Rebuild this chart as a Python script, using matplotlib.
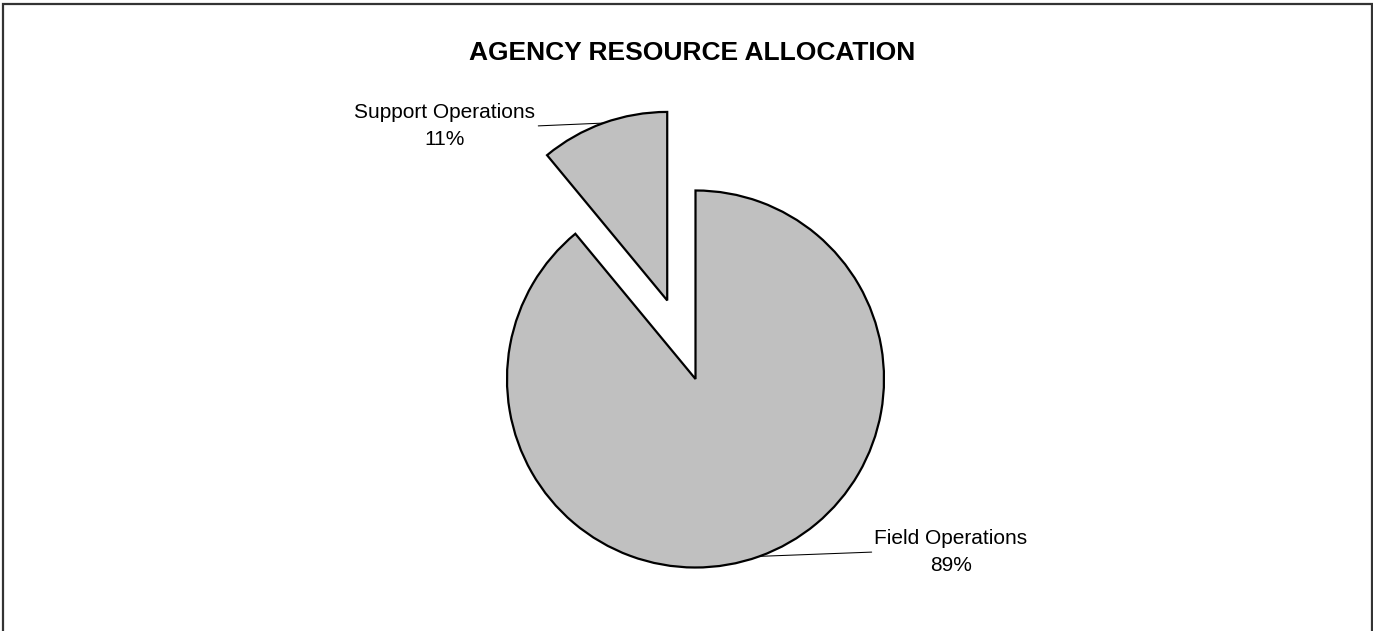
import matplotlib

matplotlib.use("Agg")
import matplotlib.pyplot as plt
import numpy as np
from matplotlib.patches import Rectangle

# Chart data
categories = ["Field Operations", "Support Operations"]
shares = [89, 11]
title = "AGENCY RESOURCE ALLOCATION"

W, H = 1373, 631
CENTER = (695.5, H - 379)
RADIUS = 188.5
# matplotlib offsets exploded wedges by an absolute distance (data units = px here)
EXPLODE = [0, 83.5]
# label anchors (pixels, y up) and which side the leader line attaches to
LABEL_POS = {"Field Operations": (951, H - 552), "Support Operations": (445, H - 126)}
LABEL_REL = {"Field Operations": (0, 0.5), "Support Operations": (1, 0.5)}

plt.rcParams["font.family"] = ["Liberation Sans", "DejaVu Sans"]

fig = plt.figure(figsize=(W / 100, H / 100), dpi=100)
ax = fig.add_axes([0, 0, 1, 1])

wedges, _ = ax.pie(
    shares, radius=RADIUS, center=CENTER, startangle=90, counterclock=False,
    explode=EXPLODE, colors=["#c0c0c0", "#c0c0c0"],
    wedgeprops=dict(edgecolor="black", linewidth=1.6, joinstyle="miter"),
    frame=True,
)
ax.set_xlim(0, W)
ax.set_ylim(0, H)
ax.set_aspect("equal")
ax.axis("off")

for wedge, name, pct in zip(wedges, categories, shares):
    mid = np.deg2rad((wedge.theta1 + wedge.theta2) / 2)
    cx, cy = wedge.center
    tip = (cx + wedge.r * np.cos(mid), cy + wedge.r * np.sin(mid))
    ax.annotate(
        f"{name}\n{pct}%", xy=tip, xytext=LABEL_POS[name],
        ha="center", va="center", fontsize=15, linespacing=1.52,
        arrowprops=dict(arrowstyle="-", color="black", lw=0.75,
                        shrinkA=0, shrinkB=0, relpos=LABEL_REL[name]),
    )

fig.text(692 / W, 1 - 53 / H, title, ha="center", va="center",
         fontsize=19, fontweight="bold")

fig.patches.append(Rectangle((3 / W, -0.05), (1369 / W), 1.05 - 4 / H,
                             transform=fig.transFigure, fill=False,
                             edgecolor="#333333", linewidth=1.6))

fig.savefig("out.png", dpi=100, facecolor="white")
